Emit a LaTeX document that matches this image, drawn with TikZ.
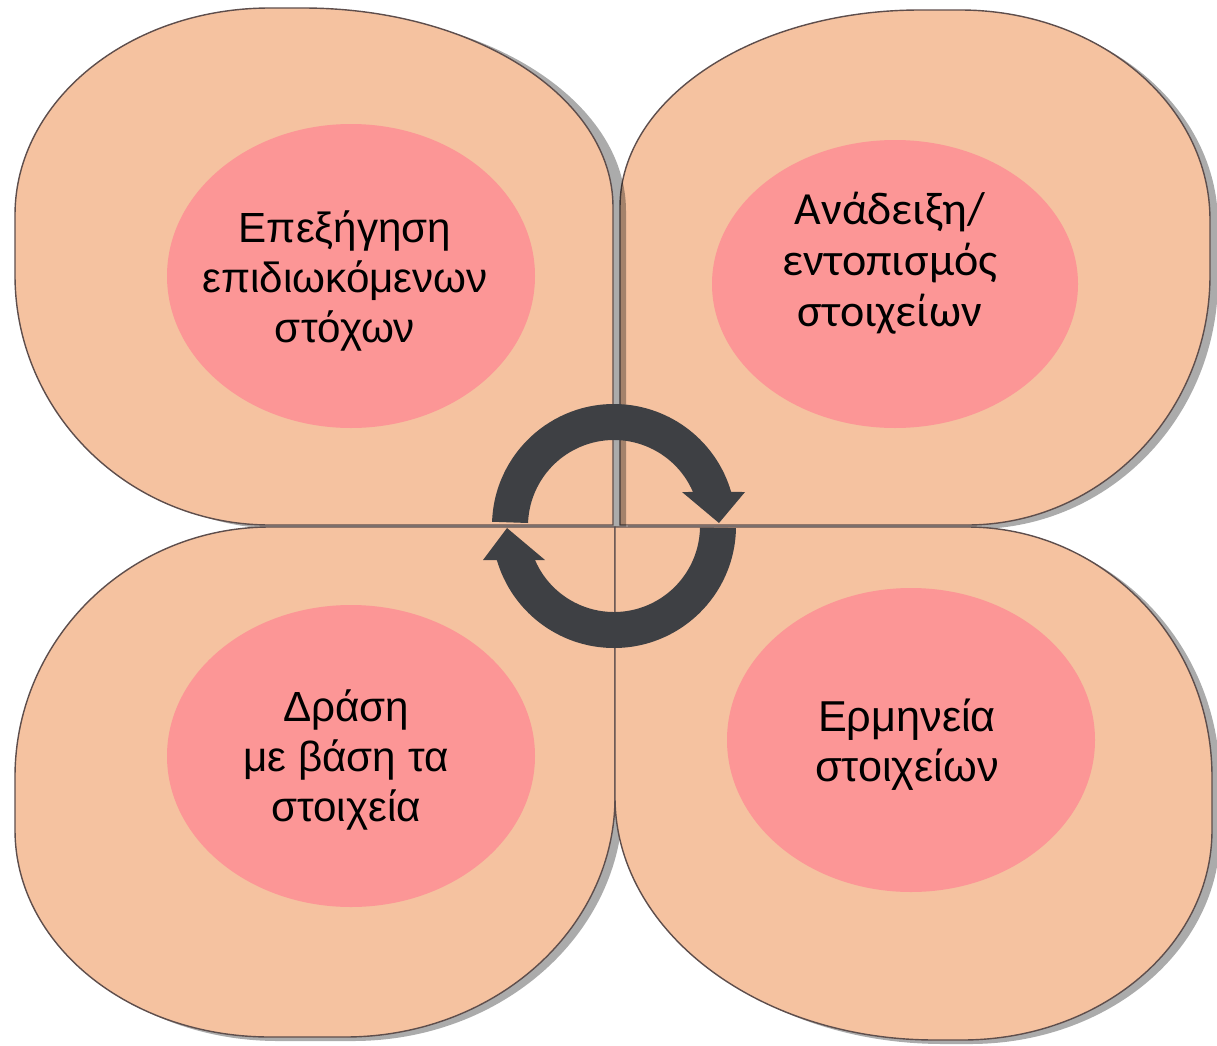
\documentclass[tikz,border=0pt]{standalone}
\usepackage{fontspec}
\setmainfont{Liberation Sans}
\newfontfamily\calfont{Carlito}
\definecolor{peach}{HTML}{F5C2A0}
\definecolor{pinkin}{HTML}{FC9696}
\definecolor{edgec}{HTML}{5E4E4C}
\definecolor{ringc}{HTML}{3E4044}
\tikzset{
  petal/.style={fill=peach, draw=edgec, line width=0.8pt},
  shadowc/.style={fill=black, fill opacity=0.33, draw=none},
  innerc/.style={fill=pinkin, draw=none},
  ringst/.style={fill=ringc, draw=none},
  lbl/.style={align=center, text=black, font=\fontsize{24}{28.6}\selectfont},
  pTL/.style={insert path={(613,525) -- (270,525)
      arc[start angle=90,end angle=180,x radius=255,y radius=250] -- (15,215)
      arc[start angle=180,end angle=270,x radius=255,y radius=207] -- (303,8)
      arc[start angle=270,end angle=360,x radius=310,y radius=199] -- cycle}},
  pTR/.style={insert path={(620,525) -- (620,207)
      arc[start angle=180,end angle=270,x radius=300,y radius=197] -- (960,10)
      arc[start angle=270,end angle=360,x radius=250,y radius=210] -- (1210,275)
      arc[start angle=0,end angle=90,x radius=243,y radius=250] -- cycle}},
  pBL/.style={insert path={(615,527) -- (270,527)
      arc[start angle=270,end angle=180,x radius=255,y radius=250] -- (15,830)
      arc[start angle=180,end angle=90,x radius=255,y radius=207] -- (345,1037)
      arc[start angle=90,end angle=0,x radius=270,y radius=240] -- cycle}},
  pBR/.style={insert path={(615,527) -- (615,797)
      arc[start angle=180,end angle=90,x radius=320,y radius=243] -- (962,1040)
      arc[start angle=90,end angle=0,x radius=250,y radius=210] -- (1212,777)
      arc[start angle=0,end angle=-90,x radius=245,y radius=250] -- cycle}},
}
\begin{document}
\begin{tikzpicture}[x=0.02cm,y=-0.02cm]
  \useasboundingbox (0,0) rectangle (1217,1045);
  \fill[white] (0,0) rectangle (1217,1045);
  % petals with soft shadows
  \fill[shadowc, shift={(8,4)}, pTR];
  \path[petal, pTR];
  \fill[shadowc, shift={(13,4)}, pTL];
  \path[petal, pTL];
  \fill[shadowc, shift={(8,4)}, pBL];
  \path[petal, pBL];
  \fill[shadowc, shift={(8,4)}, pBR];
  \path[petal, pBR];
  % inner ellipses
  \fill[innerc] (351,276) ellipse [x radius=184, y radius=152];
  \fill[innerc] (895,284) ellipse [x radius=183, y radius=144];
  \fill[innerc] (351,756) ellipse [x radius=184, y radius=151];
  \fill[innerc] (911,740) ellipse [x radius=184, y radius=152];
  % labels
  \node[lbl] (tTL) at (345,281) {Επεξήγηση\\επιδιωκόμενων\\στόχων};
  \node[lbl, font=\calfont\fontsize{26.2}{29}\selectfont] (tTR) at (890,263) {Ανάδειξη/\\εντοπισμός\\στοιχείων};
  \node[lbl] (tBL) at (346,760) {Δράση\\με βάση τα\\στοιχεία};
  \node[lbl, font=\fontsize{24.6}{28.6}\selectfont] (tBR) at (907,745) {Ερμηνεία\\στοιχείων};
  % central cycle arrow
  \begin{scope}[shift={(614,526)}]
    \fill[ringst] (182:122) arc[start angle=182,end angle=343.8,radius=122]
      -- (131,-34) -- (105,-3) -- (68,-34) -- (336.7:86)
      arc[start angle=336.7,end angle=182,radius=86] -- cycle;
    \fill[ringst] (1:122) arc[start angle=1,end angle=163.8,radius=122]
      -- (-131,34) -- (-107,2) -- (-69,34) -- (156.7:86)
      arc[start angle=156.7,end angle=1,radius=86] -- cycle;
  \end{scope}
\end{tikzpicture}
\end{document}
